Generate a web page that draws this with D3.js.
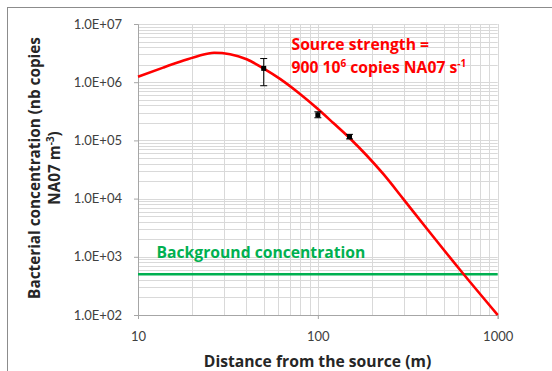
<!DOCTYPE html>
<html>
<head>
<meta charset="utf-8">
<script src="https://cdn.jsdelivr.net/npm/d3@7"></script>
<style>
  html, body { margin: 0; padding: 0; background: #fff; }
  svg { display: block; font-family: Lato, "Open Sans", sans-serif; }
</style>
</head>
<body>
<svg id="chart" width="552" height="371"></svg>
<script>
// ---- data ----
const curveDistance = [10, 13.8, 17.1, 21.2, 26.5, 32.5, 40.2, 49.8, 61.6, 79.6, 98.6, 121.9, 151, 187, 231, 299, 403, 645, 1000];
const curveConcentration = [1.24e6, 1.78e6, 2.24e6, 2.77e6, 3.21e6, 3.03e6, 2.48e6, 1.73e6, 1.14e6, 6.27e5, 3.6e5, 1.99e5, 1.08e5, 5.5e4, 2.65e4, 9.8e3, 3.06e3, 506, 100];
const obsDistance = [50, 100, 150];
const obsConcentration = [1.73e6, 2.75e5, 1.16e5];
const obsUpper = [2.55e6, 3.1e5, 1.27e5];
const obsLower = [8.7e5, 2.45e5, 1.06e5];
const background = 500;
const xTicks = [10, 100, 1000];
const xTickLabels = ["10", "100", "1000"];
const yTicks = [1e2, 1e3, 1e4, 1e5, 1e6, 1e7];
const yTickLabels = ["1.0E+02", "1.0E+03", "1.0E+04", "1.0E+05", "1.0E+06", "1.0E+07"];

const svg = d3.select("#chart");
const titleFont = "'Open Sans', Lato, sans-serif";
const titleSize = 15.7;

// outer frame (right/bottom cut off)
svg.append("rect").attr("x", 7.5).attr("y", 7.5).attr("width", 600).attr("height", 400)
  .attr("fill", "none").attr("stroke", "#8c8c8c").attr("stroke-width", 1);

const x = d3.scaleLog().domain([10, 1000]).range([138, 497.7]);
const y = d3.scaleLog().domain([100, 1e7]).range([315, 24]);

// grid
const xGrid = [];
[10, 100].forEach(d => { for (let k = 1; k <= 9; k++) xGrid.push(d * k); });
xGrid.push(1000);
const yGrid = [];
[1e2, 1e3, 1e4, 1e5, 1e6].forEach(d => { for (let k = 1; k <= 9; k++) yGrid.push(d * k); });
yGrid.push(1e7);

const grid = svg.append("g").attr("stroke", "#d9d9d9").attr("stroke-width", 1);
grid.selectAll(".gx").data(xGrid).join("line")
  .attr("x1", d => Math.round(x(d)) + 0.5).attr("x2", d => Math.round(x(d)) + 0.5)
  .attr("y1", y(1e7)).attr("y2", y(100));
grid.selectAll(".gy").data(yGrid).join("line")
  .attr("y1", d => Math.round(y(d)) + 0.5).attr("y2", d => Math.round(y(d)) + 0.5)
  .attr("x1", x(10)).attr("x2", x(1000));

// axes
const xAxis = d3.axisBottom(x).tickValues(xTicks).tickSize(4).tickPadding(13)
  .tickFormat((d, i) => xTickLabels[i]);
const yAxis = d3.axisLeft(y).tickValues(yTicks).tickSize(4).tickPadding(12)
  .tickFormat((d, i) => yTickLabels[i]);

const gx = svg.append("g").attr("transform", `translate(0,${y(100)})`).call(xAxis);
const gy = svg.append("g").attr("transform", `translate(${x(10)},0)`).call(yAxis);
[gx, gy].forEach(g => {
  g.select(".domain").attr("stroke", "#a6a6a6");
  g.selectAll(".tick line").attr("stroke", "#a6a6a6");
  g.selectAll(".tick text").attr("fill", "#404040").attr("font-size", 13)
    .attr("font-family", "Lato, sans-serif");
});

// background line
svg.append("line").attr("x1", x(10)).attr("x2", x(1000))
  .attr("y1", y(background)).attr("y2", y(background))
  .attr("stroke", "#00b050").attr("stroke-width", 2.5);

// model curve
const line = d3.line().x(d => x(d[0])).y(d => y(d[1])).curve(d3.curveMonotoneX);
svg.append("path").datum(curveDistance.map((d, i) => [d, curveConcentration[i]]))
  .attr("d", line).attr("fill", "none").attr("stroke", "#ff0000").attr("stroke-width", 2.6);

// observations with error bars
const obs = obsDistance.map((d, i) => ({ d, c: obsConcentration[i], hi: obsUpper[i], lo: obsLower[i] }));
const og = svg.append("g");
og.selectAll(".eb").data(obs).join("line")
  .attr("x1", o => x(o.d)).attr("x2", o => x(o.d))
  .attr("y1", o => y(o.hi)).attr("y2", o => y(o.lo))
  .attr("stroke", "#000").attr("stroke-width", 1);
og.selectAll(".cap1").data(obs).join("line")
  .attr("x1", o => x(o.d) - 3.5).attr("x2", o => x(o.d) + 3.5)
  .attr("y1", o => y(o.hi)).attr("y2", o => y(o.hi))
  .attr("stroke", "#000").attr("stroke-width", 1);
og.selectAll(".cap2").data(obs).join("line")
  .attr("x1", o => x(o.d) - 3.5).attr("x2", o => x(o.d) + 3.5)
  .attr("y1", o => y(o.lo)).attr("y2", o => y(o.lo))
  .attr("stroke", "#000").attr("stroke-width", 1);
og.selectAll(".pt").data(obs).join("rect")
  .attr("x", o => x(o.d) - 2.5).attr("y", o => y(o.c) - 2.5)
  .attr("width", 5).attr("height", 5).attr("fill", "#000");

// annotations
const src = svg.append("text").attr("x", 291.5).attr("y", 50).attr("font-family", titleFont)
  .attr("fill", "#ff0000").attr("font-weight", "bold").attr("font-size", titleSize);
src.append("tspan").text("Source strength =");
const src2 = svg.append("text").attr("x", 291.5).attr("y", 73).attr("font-family", titleFont)
  .attr("fill", "#ff0000").attr("font-weight", "bold").attr("font-size", titleSize);
src2.append("tspan").text("900 10");
src2.append("tspan").attr("font-size", 10).attr("dy", -6).text("6");
src2.append("tspan").attr("dy", 6).text(" copies NA07 s");
src2.append("tspan").attr("font-size", 10).attr("dy", -6).text("-1");

svg.append("text").attr("x", 156.5).attr("y", 258).attr("font-family", titleFont)
  .attr("fill", "#00b050").attr("font-weight", "bold").attr("font-size", titleSize)
  .text("Background concentration");

// axis titles
svg.append("text").attr("x", 317.5).attr("y", 366.5).attr("text-anchor", "middle")
  .attr("font-family", titleFont)
  .attr("fill", "#262626").attr("font-weight", "bold").attr("font-size", titleSize)
  .text("Distance from the source (m)");

const yt = svg.append("g").attr("transform", "translate(40,168) rotate(-90)");
yt.append("text").attr("x", 0).attr("y", 0).attr("text-anchor", "middle")
  .attr("font-family", titleFont)
  .attr("fill", "#262626").attr("font-weight", "bold").attr("font-size", 15.3)
  .text("Bacterial concentration (nb copies");
const yt2 = yt.append("text").attr("x", 0).attr("y", 20).attr("text-anchor", "middle")
  .attr("font-family", titleFont)
  .attr("fill", "#262626").attr("font-weight", "bold").attr("font-size", 15.3);
yt2.append("tspan").text("NA07 m");
yt2.append("tspan").attr("font-size", 10).attr("dy", -6).text("-3");
yt2.append("tspan").attr("dy", 6).text(")");
</script>
</body>
</html>
